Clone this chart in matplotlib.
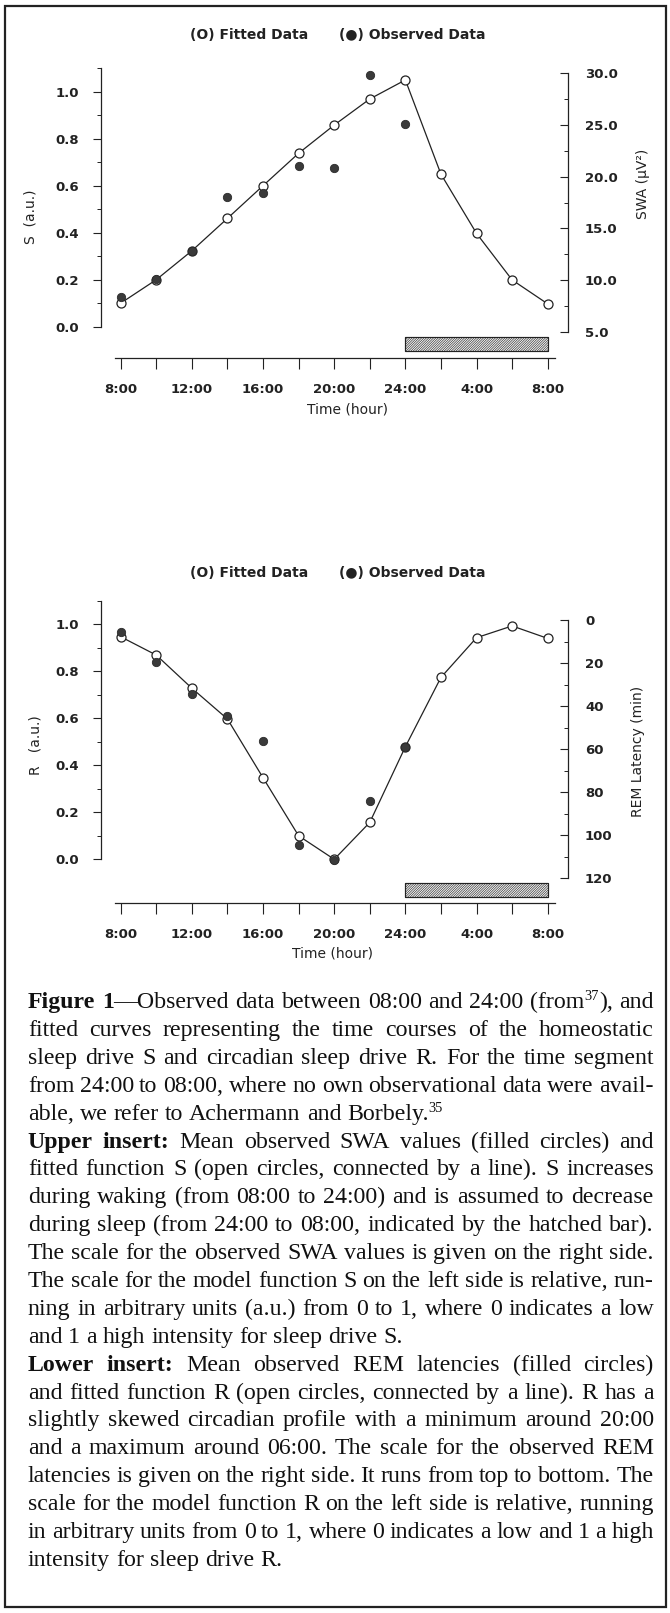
import numpy as np
import matplotlib
matplotlib.use("Agg")
import matplotlib.pyplot as plt
from matplotlib.ticker import FixedLocator
from matplotlib.patches import Rectangle

# --- data ---------------------------------------------------------------
hours = [8, 10, 12, 14, 16, 18, 20, 22, 24, 26, 28, 30, 32]   # 8:00 .. 8:00 next day
obs_hours = [8, 10, 12, 14, 16, 18, 20, 22, 24]
time_ticks = [8, 10, 12, 14, 16, 18, 20, 22, 24, 26, 28, 30, 32]
time_labels = ["8:00", "", "12:00", "", "16:00", "", "20:00", "", "24:00", "", "4:00", "", "8:00"]
sleep_start, sleep_end = 24, 32

s_fitted = [0.10, 0.20, 0.323, 0.461, 0.600, 0.738, 0.858, 0.969, 1.050, 0.649, 0.397, 0.199, 0.097]
swa_observed = [8.39, 10.07, 12.84, 18.06, 18.39, 21.03, 20.87, 29.84, 25.07]   # uV^2

r_fitted = [0.947, 0.869, 0.728, 0.597, 0.347, 0.100, 0.0, 0.157, 0.479, 0.774, 0.943, 0.993, 0.940]
rem_observed = [5.3, 19.5, 34.4, 44.4, 56.0, 104.5, 111.5, 84.0, 58.8]       # min

s_ticks = [0.0, 0.2, 0.4, 0.6, 0.8, 1.0]
swa_ticks = [5, 10, 15, 20, 25, 30]
rem_ticks = [0, 20, 40, 60, 80, 100, 120]

W, H = 670, 1613
INK = "#222222"
SANS = "DejaVu Sans"
plt.rcParams["font.family"] = SANS
plt.rcParams["font.weight"] = "bold"
plt.rcParams["hatch.linewidth"] = 0.55

fig = plt.figure(figsize=(W / 100, H / 100), dpi=100)
fig.patch.set_facecolor("white")


def px_box(left, top, right, bottom):
    return [left / W, 1 - bottom / H, (right - left) / W, (bottom - top) / H]


def fpos(x, y):
    return x / W, 1 - y / H


def style_panel(ax, ax2, left_lim, right_lim, right_bounds, right_major, right_minor, bar_y):
    ax.set_xlim(6.893, 33.124)
    ax.set_ylim(*left_lim)
    ax2.set_ylim(*right_lim)
    for sp in ["top", "right"]:
        ax.spines[sp].set_visible(False)
    for sp in ["top", "left", "bottom"]:
        ax2.spines[sp].set_visible(False)
    ax.spines["left"].set_bounds(0, 1.1)
    ax.spines["bottom"].set_bounds(7.68, 32.41)
    ax2.spines["right"].set_bounds(*right_bounds)
    for sp in [ax.spines["left"], ax.spines["bottom"], ax2.spines["right"]]:
        sp.set_color(INK)
        sp.set_linewidth(0.9)

    ax.xaxis.set_major_locator(FixedLocator(time_ticks))
    ax.set_xticklabels(time_labels)
    ax.tick_params(axis="x", direction="out", length=8, width=0.8, pad=9.5,
                   labelsize=9.5, colors=INK)

    ax.yaxis.set_major_locator(FixedLocator(s_ticks))
    ax.yaxis.set_minor_locator(FixedLocator([0.1, 0.3, 0.5, 0.7, 0.9, 1.1]))
    ax.set_yticklabels(["%.1f" % v for v in s_ticks])
    ax.tick_params(axis="y", which="major", direction="out", length=6, width=0.8,
                   pad=10, labelsize=9.5, colors=INK)
    ax.tick_params(axis="y", which="minor", direction="out", length=3, width=0.7, colors=INK)

    ax2.yaxis.set_major_locator(FixedLocator(right_major))
    ax2.yaxis.set_minor_locator(FixedLocator(right_minor))
    ax2.tick_params(axis="y", which="major", direction="in", length=6, width=0.8,
                    pad=12.5, labelsize=9.5, colors=INK)
    ax2.tick_params(axis="y", which="minor", direction="in", length=3, width=0.7, colors=INK)

    # hatched bar marking the sleep period
    ax.bar(sleep_start, bar_y[1] - bar_y[0], bottom=bar_y[0], width=sleep_end - sleep_start,
           align="edge", facecolor="white", edgecolor="#444444", hatch="/" * 14,
           linewidth=0.8, zorder=2)
    ax.bar(sleep_start, bar_y[1] - bar_y[0], bottom=bar_y[0], width=sleep_end - sleep_start,
           align="edge", fill=False, edgecolor=INK, linewidth=0.8, zorder=2)


# --- upper insert: S and SWA --------------------------------------------
ax1 = fig.add_axes(px_box(101, 60, 567.7, 358.3))
ax1b = ax1.twinx()
style_panel(ax1, ax1b, (-0.1345, 1.1349), (2.4265, 31.287), (5, 30),
            swa_ticks, [7.5, 12.5, 17.5, 22.5, 27.5], (-0.1021, -0.0451))
ax1b.set_yticklabels(["%.1f" % v for v in swa_ticks])
ax1.plot(hours, s_fitted, color=INK, lw=0.9, marker="o", ms=6.5, mfc="white",
         mec=INK, mew=0.9, zorder=3)
ax1b.plot(obs_hours, swa_observed, ls="none", marker="o", ms=6, mfc="#3a3a3a",
          mec="#2a2a2a", mew=0.6, zorder=4)

ax1.set_xlabel("Time (hour)", fontsize=10, color=INK)
ax1.xaxis.set_label_coords(0.5282, -0.1733)
ax1.xaxis.label.set_va("center")
ax1.set_ylabel("S  (a.u.)", fontsize=10, color=INK)
ax1.yaxis.set_label_coords(-0.1521, 0.4737)
ax1.yaxis.label.set_va("center")
ax1b.set_ylabel("SWA (\u00b5V\u00b2)", fontsize=10, color=INK)
ax1b.yaxis.set_label_coords(1.162, 0.5843)
ax1b.yaxis.label.set_va("center")

# --- lower insert: R and REM latency ------------------------------------
ax2 = fig.add_axes(px_box(101, 595, 567.7, 903.3))
ax2b = ax2.twinx()
style_panel(ax2, ax2b, (-0.18723, 1.12468), (131.6, -11.77), (0, 120),
            rem_ticks, [10, 30, 50, 70, 90, 110], (-0.159, -0.0996))
ax2b.set_yticklabels([str(v) for v in rem_ticks])
ax2.plot(hours, r_fitted, color=INK, lw=0.9, marker="o", ms=6.5, mfc="white",
         mec=INK, mew=0.9, zorder=3)
ax2b.plot(obs_hours, rem_observed, ls="none", marker="o", ms=6, mfc="#3a3a3a",
          mec="#2a2a2a", mew=0.6, zorder=4)

ax2.set_xlabel("Time (hour)", fontsize=10, color=INK)
ax2.xaxis.set_label_coords(0.495, -0.1622)
ax2.xaxis.label.set_va("center")
ax2.set_ylabel("R   (a.u.)", fontsize=10, color=INK)
ax2.yaxis.set_label_coords(-0.1414, 0.5135)
ax2.yaxis.label.set_va("center")
ax2b.set_ylabel("REM Latency (min)", fontsize=10, color=INK)
ax2b.yaxis.set_label_coords(1.1513, 0.4917)
ax2b.yaxis.label.set_va("center")

# legends (drawn as plain text like the original)
for y in (35, 573):
    fig.text(*fpos(190, y), "(O) Fitted Data", fontsize=10, color=INK, va="center")
    fig.text(*fpos(339, y), "(\u25cf) Observed Data", fontsize=10, color=INK, va="center")

# --- caption, justified --------------------------------------------------
caption = [
    ["*Figure 1*\u2014Observed data between 08:00 and 24:00 (from^37), and",
     "fitted curves representing the time courses of the homeostatic",
     "sleep drive S and circadian sleep drive R. For the time segment",
     "from 24:00 to 08:00, where no own observational data were avail-",
     "able, we refer to Achermann and Borbely.^35"],
    ["*Upper insert:* Mean observed SWA values (filled circles) and",
     "fitted function S (open circles, connected by a line). S increases",
     "during waking (from 08:00 to 24:00) and is assumed to decrease",
     "during sleep (from 24:00 to 08:00, indicated by the hatched bar).",
     "The scale for the observed SWA values is given on the right side.",
     "The scale for the model function S on the left side is relative, run-",
     "ning in arbitrary units (a.u.) from 0 to 1, where 0 indicates a low",
     "and 1 a high intensity for sleep drive S."],
    ["*Lower insert:* Mean observed REM latencies (filled circles)",
     "and fitted function R (open circles, connected by a line). R has a",
     "slightly skewed circadian profile with a minimum around 20:00",
     "and a maximum around 06:00. The scale for the observed REM",
     "latencies is given on the right side. It runs from top to bottom. The",
     "scale for the model function R on the left side is relative, running",
     "in arbitrary units from 0 to 1, where 0 indicates a low and 1 a high",
     "intensity for sleep drive R."],
]

CAP_FONT = "Liberation Serif"
cap_size = 17.2
cap_left, cap_right = 27.8, 653.8
first_base, line_step = 1008.0, 27.9

bold = False


def parse(line):
    global bold
    words = []
    for raw in line.split(" "):
        runs, buf, i = [], "", 0
        while i < len(raw):
            c = raw[i]
            if c == "*":
                if buf:
                    runs.append((buf, "b" if bold else "n"))
                    buf = ""
                bold = not bold
            elif c == "^":
                if buf:
                    runs.append((buf, "b" if bold else "n"))
                    buf = ""
                j = i + 1
                while j < len(raw) and raw[j].isdigit():
                    j += 1
                runs.append((raw[i + 1:j], "s"))
                i = j
                continue
            else:
                buf += c
            i += 1
        if buf:
            runs.append((buf, "b" if bold else "n"))
        words.append(runs)
    return words


renderer = fig.canvas.get_renderer()


def width_of(t):
    return t.get_window_extent(renderer=renderer).width


probe1 = fig.text(0, 0, "a a", fontsize=cap_size, family=CAP_FONT, fontweight="normal")
probe2 = fig.text(0, 0, "aa", fontsize=cap_size, family=CAP_FONT, fontweight="normal")
space_w = width_of(probe1) - width_of(probe2)
probe1.remove()
probe2.remove()

k = 0
for para in caption:
    for li, line in enumerate(para):
        base = round(first_base + k * line_step)
        words = parse(line)
        placed = []
        for runs in words:
            arts = []
            for txt, kind in runs:
                fs = cap_size * 0.6 if kind == "s" else cap_size
                fw = "bold" if kind == "b" else "normal"
                a = fig.text(0, 0, txt, fontsize=fs, fontweight=fw, family=CAP_FONT,
                             color="#111111", va="baseline")
                arts.append((a, width_of(a), kind))
            placed.append(arts)
        total = sum(w for arts in placed for _, w, _ in arts)
        last = li == len(para) - 1
        if last or len(placed) < 2:
            gap = space_w
        else:
            gap = max((cap_right - cap_left - total) / (len(placed) - 1), 0.45 * space_w)
        x = cap_left
        for arts in placed:
            for a, w, kind in arts:
                yy = base - 8 if kind == "s" else base
                a.set_position(fpos(x, yy))
                x += w
            x += gap
        k += 1

# frame round the whole figure
fig.patches.append(Rectangle(fpos(5, 1607), 661 / W, 1601 / H, transform=fig.transFigure,
                             fill=False, edgecolor="#222222", linewidth=1.6))

fig.savefig("out.png", dpi=100)
